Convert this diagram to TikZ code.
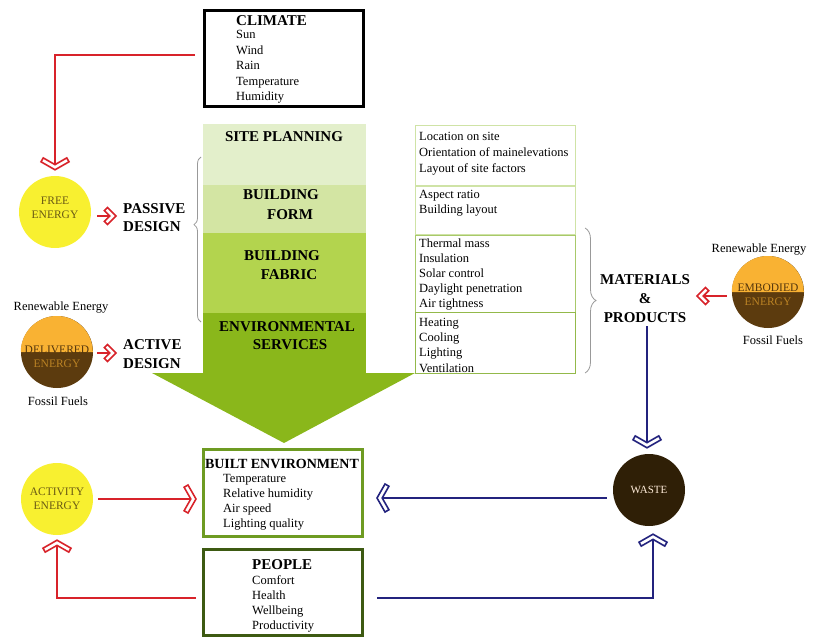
\documentclass[tikz,border=0pt]{standalone}
\usepackage{fontspec}
\setmainfont{Liberation Serif}
\usetikzlibrary{arrows.meta,decorations.pathreplacing,calc}
\pgfdeclarearrow{
  name = Chev,
  parameters = {\the\pgfarrowlength,\the\pgfarrowwidth,\the\pgfarrowinset},
  setup code = {
    \pgfmathsetlengthmacro\chevN{-\pgfarrowinset*veclen(\pgfarrowlength,0.5*\pgfarrowwidth)/(0.5*\pgfarrowwidth)}
    \pgfmathsetlengthmacro\chevB{-\pgfarrowlength-\pgfarrowinset*(0.5*\pgfarrowwidth)/veclen(\pgfarrowlength,0.5*\pgfarrowwidth)}
    \pgfarrowssettipend{0pt}
    \pgfarrowssetlineend{\chevN+0.5pt}
    \pgfarrowssetbackend{\chevB}
    \pgfarrowssavethe\pgfarrowlength
    \pgfarrowssavethe\pgfarrowwidth
    \pgfarrowssavethe\pgfarrowinset
  },
  drawing code = {
    \pgfmathsetmacro\chH{0.5*\pgfarrowwidth}
    \pgfmathsetmacro\chL{\pgfarrowlength}
    \pgfmathsetmacro\chT{\pgfarrowinset}
    \pgfmathsetmacro\chs{veclen(\chL,\chH)}
    \pgfmathsetmacro\chQx{-\chL-\chT*\chH/\chs}
    \pgfmathsetmacro\chQy{\chH-\chT*\chL/\chs}
    \pgfmathsetmacro\chNx{-\chT*\chs/\chH}
    \pgfpathmoveto{\pgfpointorigin}
    \pgfpathlineto{\pgfqpoint{-\chL pt}{\chH pt}}
    \pgfpathlineto{\pgfqpoint{\chQx pt}{\chQy pt}}
    \pgfpathlineto{\pgfqpoint{\chNx pt}{0pt}}
    \pgfpathlineto{\pgfqpoint{\chQx pt}{-\chQy pt}}
    \pgfpathlineto{\pgfqpoint{-\chL pt}{-\chH pt}}
    \pgfpathclose
    \pgfsetfillcolor{white}
    \pgfusepathqfillstroke
  },
  defaults = {length=8pt, width=28pt, inset=4.5pt}
}
\definecolor{redc}{HTML}{D8232A}
\definecolor{bluec}{HTML}{23237E}
\definecolor{yellowc}{HTML}{F8F030}
\definecolor{orangec}{HTML}{F9B233}
\definecolor{brownc}{HTML}{5C3B0E}
\definecolor{wastec}{HTML}{2F1F06}
\definecolor{olivetxt}{HTML}{6A5A14}
\definecolor{spc}{HTML}{E3EFCB}
\definecolor{bfc}{HTML}{D3E5A3}
\definecolor{fabc}{HTML}{B3D44E}
\definecolor{envc}{HTML}{8AB71B}
\definecolor{boxa}{HTML}{CFE3A6}
\definecolor{boxb}{HTML}{A8C96A}
\definecolor{boxc}{HTML}{93B94A}
\definecolor{bec}{HTML}{6E9B22}
\definecolor{pec}{HTML}{3D5A12}
\begin{document}
\begin{tikzpicture}[x=1pt,y=-1pt,
  every node/.style={inner sep=0pt},
  item/.style={anchor=base west,font=\fontsize{12.5}{15}\selectfont},
  headc/.style={anchor=base,font=\bfseries\fontsize{15}{18}\selectfont},
  headw/.style={anchor=base west,font=\bfseries\fontsize{15}{18}\selectfont},
  ctext/.style={align=center,font=\fontsize{11.5}{13.5}\selectfont},
  redln/.style={draw=redc,line width=1.6pt},
  blueln/.style={draw=bluec,line width=1.6pt},
  chevbig/.style={-{Chev[length=8pt,width=28pt,inset=4.5pt]}},
  chevsmall/.style={-{Chev[length=8.5pt,width=17pt,inset=4.5pt]}},
  listbox/.style={draw,line width=1.3pt,anchor=north west},
  bracec/.style={draw=gray!80,line width=0.8pt,decorate}
]
\useasboundingbox (0,0) rectangle (813,639);

% ---- CLIMATE ----
\node[draw=black,line width=3pt,minimum width=159pt,minimum height=96pt] (climate) at (284,58.5) {};
\node[headw] (climh) at (236,26) {CLIMATE};
\foreach \t [count=\i] in {Sun,Wind,Rain,Temperature,Humidity}
  \node[item] (cl\i) at (236,{39+15.5*(\i-1)}) {\t};

% ---- central column ----
\node[fill=spc,minimum width=163pt,minimum height=61pt,anchor=north west] (site) at (203,124) {};
\node[fill=bfc,minimum width=163pt,minimum height=48pt,anchor=north west] (form) at (203,185) {};
\node[fill=fabc,minimum width=163pt,minimum height=80pt,anchor=north west] (fabric) at (203,233) {};
\node[fill=envc,minimum width=163pt,minimum height=61pt,anchor=north west] (serv) at (203,312.5) {};
\fill[envc] (152,373) -- (415,373) -- (284,443) -- cycle;
\node[headc] (siteh) at (284,142) {SITE PLANNING};
\node[headc] (formh1) at (281,200) {BUILDING};
\node[headc] (formh2) at (290,219) {FORM};
\node[headc] (fabh1) at (282,260) {BUILDING};
\node[headc] (fabh2) at (289,279) {FABRIC};
\node[headc] (servh1) at (287,331) {ENVIRONMENTAL};
\node[headc] (servh2) at (290,349) {SERVICES};

% ---- right list boxes ----
\node[listbox,draw=boxa,minimum width=160pt,minimum height=60pt] (lb1) at (415,125) {};
\node[listbox,draw=boxa,minimum width=160pt,minimum height=48pt] (lb2) at (415,186) {};
\node[listbox,draw=boxb,minimum width=160pt,minimum height=77pt] (lb3) at (415,235) {};
\node[listbox,draw=boxc,minimum width=160pt,minimum height=61pt] (lb4) at (415,312) {};
\node[item] (a1) at (419,141) {Location on site};
\node[item] (a2) at (419,157) {Orientation of mainelevations};
\node[item] (a3) at (419,172) {Layout of site factors};
\node[item] (b1) at (419,198) {Aspect ratio};
\node[item] (b2) at (419,213) {Building layout};
\foreach \t [count=\i] in {Thermal mass,Insulation,Solar control,Daylight penetration,Air tightness}
  \node[item] (f\i) at (419,{247+15.1*(\i-1)}) {\t};
\foreach \t [count=\i] in {Heating,Cooling,Lighting,Ventilation}
  \node[item] (s\i) at (419,{326.5+15.2*(\i-1)}) {\t};

% ---- braces ----
\draw[bracec,decoration={brace,amplitude=7pt,aspect=0.59}] (201,322) -- (201,157);
\draw[bracec,decoration={brace,amplitude=11pt,aspect=0.5}] (585,228) -- (585,373);

% ---- left labels ----
\node[headw] (pas1) at (123,213) {PASSIVE};
\node[headw] (pas2) at (123,231) {DESIGN};
\node[headw] (act1) at (123,349) {ACTIVE};
\node[headw] (act2) at (123,368) {DESIGN};
\node[headc] (mat) at (645,284) {MATERIALS};
\node[headc] (amp) at (645,303) {\&};
\node[headc] (prod) at (645,322) {PRODUCTS};

% ---- circles ----
\node[circle,fill=yellowc,minimum size=72pt] (free) at (55,212) {};
\node[ctext,text=olivetxt] (freet) at (55,208) {FREE\\ENERGY};

\node[circle,minimum size=72pt] (deliv) at (57,352) {};
\fill[brownc] (deliv.center) circle[radius=36];
\fill[orangec] (deliv.west) arc[start angle=180,end angle=360,radius=36] -- cycle;
\node[ctext,text=brownc!90!black] (delt1) at (57,350) {DELIVERED};
\node[ctext,text=orangec!60!brownc] (delt2) at (57,363.5) {ENERGY};
\node[item,anchor=base] (ren1) at (61,310) {Renewable Energy};
\node[item,anchor=base] (fos1) at (58,405) {Fossil Fuels};

\node[circle,fill=yellowc,minimum size=72pt] (act) at (57,499) {};
\node[ctext,text=olivetxt] (actt) at (57,498.5) {ACTIVITY\\ENERGY};

\node[circle,minimum size=72pt] (emb) at (768,292) {};
\fill[brownc] (emb.center) circle[radius=36];
\fill[orangec] (emb.west) arc[start angle=180,end angle=360,radius=36] -- cycle;
\node[ctext,text=brownc!90!black] (embt1) at (768,288) {EMBODIED};
\node[ctext,text=orangec!60!brownc] (embt2) at (768,302) {ENERGY};
\node[item,anchor=base] (ren2) at (759,252) {Renewable Energy};
\node[item,anchor=base] (fos2) at (773,344) {Fossil Fuels};

\node[circle,fill=wastec,minimum size=72pt,text=white!85!orange,font=\fontsize{11}{12}\selectfont] (waste) at (649,490) {WASTE};

% ---- bottom boxes ----
\node[draw=bec,line width=3pt,minimum width=159pt,minimum height=87pt] (be) at (283,493) {};
\node[anchor=base,font=\bfseries\fontsize{14}{17}\selectfont] (beh) at (282,468) {BUILT ENVIRONMENT};
\foreach \t [count=\i] in {Temperature,Relative humidity,Air speed,Lighting quality}
  \node[item] (be\i) at (223,{482+15.3*(\i-1)}) {\t};

\node[draw=pec,line width=3pt,minimum width=159pt,minimum height=86pt] (people) at (283,592.5) {};
\node[headw] (peh) at (252,569) {PEOPLE};
\foreach \t [count=\i] in {Comfort,Health,Wellbeing,Productivity}
  \node[item] (pe\i) at (252,{584+15.3*(\i-1)}) {\t};

% ---- connectors ----
\coordinate (pasT) at (116,216);
\coordinate (actT) at (116,353);
\coordinate (embT) at (697,296);
\coordinate (mtop) at (647,326);

\draw[redln,chevbig] ([xshift=-8pt,yshift=3.5pt]climate.west) -| ([yshift=6pt]free.north);
\draw[redln,chevsmall] ([xshift=6pt,yshift=-4pt]free.east) -- (pasT);
\draw[redln,chevsmall] ([xshift=4pt,yshift=-1pt]deliv.east) -- (actT);
\draw[redln,chevsmall] ([xshift=-5pt,yshift=-4pt]emb.west) -- (embT);
\draw[redln,chevbig] ([xshift=5pt]act.east) -- ([xshift=-6pt]act.east -| be.west);
\draw[redln,chevbig] ([xshift=-6pt,yshift=-5.5pt]people.west) -| ([yshift=-5pt]act.south);

\draw[blueln,chevbig] (mtop) -- ([yshift=6pt]waste.north -| mtop);
\draw[blueln,chevbig] ([xshift=-6pt,yshift=-8pt]waste.west) -- ([xshift=13pt,yshift=-8pt]be.east |- waste.west);
\draw[blueln,chevbig] ([xshift=13pt,yshift=-5.5pt]people.east) -| ([xshift=4pt,yshift=-8pt]waste.south);
\end{tikzpicture}
\end{document}
